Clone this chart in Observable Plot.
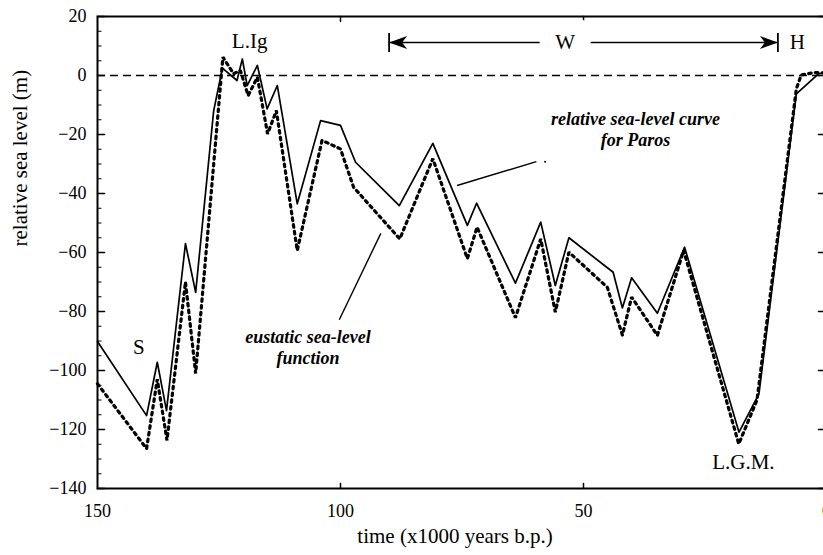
<!DOCTYPE html>
<html><head><meta charset="utf-8">
<script src="https://cdn.jsdelivr.net/npm/d3@7"></script>
<script src="https://cdn.jsdelivr.net/npm/@observablehq/plot@0.6"></script>
<style>html,body{margin:0;padding:0;overflow:hidden;background:#fff}svg{overflow:hidden}</style>
</head><body><div id="chart"></div>
<script>
// relative sea-level curve for Paros (time in ka b.p., level in m)
const relTime  = [150, 139.9, 137.7, 135.8, 131.9, 129.8, 126.1, 124.3, 121.3, 120.2, 119.2, 117.1, 115.1, 113.0, 108.9, 104.1, 100.0, 96.9, 87.9, 81.0, 73.9, 72.0, 64.0, 58.8, 55.8, 53.0, 43.9, 42.0, 40.1, 34.8, 29.2, 18.0, 13.9, 6.2, 1.6, 0];
const relLevel = [-90.2, -115.3, -97.2, -113.6, -57, -73.5, -12, 2.5, -1.7, 5.6, -3.4, 3.4, -11.3, -3.4, -43.5, -15.3, -16.9, -29.4, -44.1, -23, -50.8, -43.3, -70.4, -49.7, -71.2, -55, -66.7, -78.8, -68.6, -80.6, -58.2, -120.9, -107.9, -6.2, 0.6, 1];
// eustatic sea-level function
const eusTime  = [150, 139.9, 137.7, 135.7, 131.9, 129.8, 124.2, 122.0, 120.6, 119.0, 117.1, 115.0, 113.2, 108.9, 103.8, 100.0, 97.3, 87.8, 81.0, 73.9, 71.9, 64.0, 58.8, 55.8, 53.0, 45.1, 42.0, 40.1, 34.8, 29.4, 18.05, 14.3, 6.2, 5.2, 2.5, 0];
const eusLevel = [-104.5, -126.5, -103, -123.7, -70, -101, 6.2, 0.6, 1.7, -6.8, -0.6, -19.8, -11.9, -59.3, -22, -24.9, -37.9, -55.4, -28.2, -62.1, -51.4, -82.1, -55.4, -80.2, -59.9, -71.8, -88, -75.1, -88.1, -59.3, -124.9, -110, -4.5, 0.2, 1, 0.8];

const xTicks = [150, 100, 50, 0];
const yTicks = [-140, -120, -100, -80, -60, -40, -20, 0, 20];
const yMinor = d3.range(-140, 21, 5).filter(v => v % 20 !== 0);

// labelled events and periods
const events = [
  {label: "L.Ig", t: 118.7, v: 11.7},
  {label: "S", t: 141.5, v: -92.1},
  {label: "L.G.M.", t: 17.1, v: -131.0},
  {label: "H", t: 6.0, v: 11.4}
];
const periodW = {label: "W", start: 90, end: 10, mid: 53.8, level: 11.2, barLow: 7.8, barHigh: 14.2};

const notes = [
  {label: "relative sea-level curve\nfor Paros", t: 39.3, v: -18.0},
  {label: "eustatic sea-level\nfunction", t: 106.7, v: -92.0}
];
const pointers = [
  {t1: 76.0, v1: -37.3, t2: 59.7, v2: -29.2},
  {t1: 91.7, v1: -53.5, t2: 100.25, v2: -82.8}
];

const rel = relTime.map((t, i) => ({t, v: relLevel[i]}));
const eus = eusTime.map((t, i) => ({t, v: eusLevel[i]}));

const serif = "Liberation Serif, Times New Roman, serif";
const tickShape = {draw(ctx, l) { ctx.moveTo(0, 0); ctx.lineTo(0, -l); }};
const headShape = {draw(ctx, l) { ctx.moveTo(0, 0); ctx.lineTo(-6.5, l); ctx.lineTo(0, l * 0.72); ctx.lineTo(6.5, l); ctx.closePath(); }};

const chart = Plot.plot({
  width: 823, height: 555,
  marginLeft: 97, marginRight: -3, marginTop: 16, marginBottom: 67,
  style: {fontFamily: serif, fontSize: "18px", background: "white", color: "black"},
  x: {domain: [150, 0], ticks: xTicks, label: null},
  y: {domain: [-140, 20], ticks: yTicks, label: null},
  marks: [
    Plot.axisY(yTicks, {tickSize: 0, tickPadding: 11, fontSize: 18, fontFamily: serif, label: null}),
    Plot.axisX(xTicks, {tickSize: 0, tickPadding: 16, fontSize: 18, fontFamily: serif, label: null}),
    // inward ticks
    Plot.vector(yTicks, {x: 150, y: d => d, length: 7, rotate: 90, anchor: "start", shape: tickShape, strokeWidth: 1.5}),
    Plot.vector(yMinor, {x: 150, y: d => d, length: 3.5, rotate: 90, anchor: "start", shape: tickShape, strokeWidth: 1.2}),
    Plot.vector(yTicks, {x: 0, y: d => d, length: 8, rotate: -90, anchor: "start", shape: tickShape, strokeWidth: 1.5}),
    Plot.vector([100, 50], {x: d => d, y: -140, length: 5, rotate: 0, anchor: "start", shape: tickShape, strokeWidth: 1.5}),
    Plot.vector([100, 50], {x: d => d, y: 20, length: 5, rotate: 180, anchor: "start", shape: tickShape, strokeWidth: 1.5}),
    Plot.frame({stroke: "black", strokeWidth: 2}),
    // present sea level
    Plot.ruleY([0], {x1: 150, x2: 0, strokeWidth: 1.4, strokeDasharray: "8 5"}),
    // curves
    Plot.line(eus, {x: "t", y: "v", strokeWidth: 3.2, strokeDasharray: "2.6 4.2", strokeLinejoin: "miter"}),
    Plot.line(rel, {x: "t", y: "v", strokeWidth: 1.7}),
    // period W
    Plot.ruleY([periodW], {x1: "start", x2: "end", y: "level", strokeWidth: 1.4}),
    Plot.ruleX([periodW.start, periodW.end], {x: d => d, y1: periodW.barLow, y2: periodW.barHigh, strokeWidth: 1.8}),
    Plot.vector([periodW], {x: "start", y: "level", length: 18, rotate: -90, anchor: "start", shape: headShape, fill: "black", strokeWidth: 0.8}),
    Plot.vector([periodW], {x: "end", y: "level", length: 18, rotate: 90, anchor: "start", shape: headShape, fill: "black", strokeWidth: 0.8}),
    Plot.text([periodW], {x: "mid", y: "level", text: "label", fontSize: 21, fontFamily: serif, stroke: "white", strokeWidth: 34, fill: "black", lineAnchor: "middle"}),
    // event labels
    Plot.text(events, {x: "t", y: "v", text: "label", fontSize: 21, fontFamily: serif, lineAnchor: "middle"}),
    // notes and pointers
    Plot.text(notes, {x: "t", y: "v", text: "label", fontSize: 18, fontStyle: "italic", fontWeight: "bold", fontFamily: serif, lineAnchor: "middle", lineHeight: 1.15}),
    Plot.link(pointers, {x1: "t1", y1: "v1", x2: "t2", y2: "v2", strokeWidth: 1.4}),
    Plot.dot([{t: 57.9, v: -29.2}], {x: "t", y: "v", r: 1, fill: "black"}),
    // axis titles
    Plot.text(["relative sea level (m)"], {frameAnchor: "left", rotate: -90, dx: -77, dy: -6, fontSize: 21, fontFamily: serif}),
    Plot.text(["time (x1000 years b.p.)"], {frameAnchor: "bottom", dx: -7, dy: 54, fontSize: 21, fontFamily: serif})
  ]
});
document.getElementById("chart").appendChild(chart);
</script>
</body></html>
